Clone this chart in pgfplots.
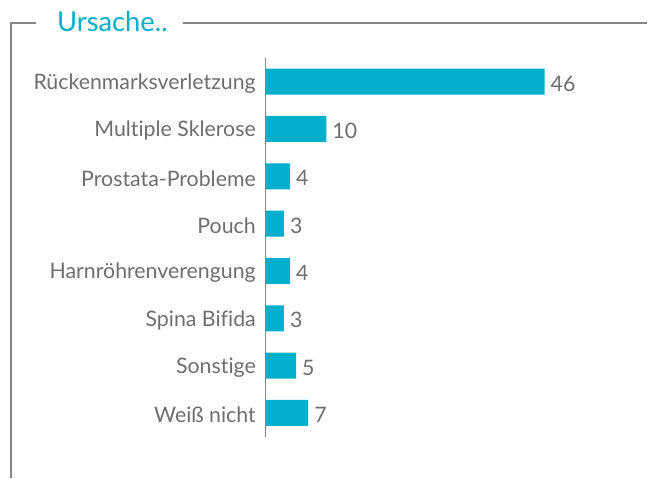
\documentclass[border=0pt]{standalone}
\usepackage{pgfplots}
\pgfplotsset{compat=1.18}
\usepackage{fontspec}
\setmainfont{Lato}[Ligatures=NoCommon]
\definecolor{teal1}{HTML}{00AFCB}
\definecolor{txtgray}{HTML}{6E6E6E}
\definecolor{linegray}{HTML}{858585}
\begin{document}
\begin{tikzpicture}
\path (0,0) rectangle (486pt,358.5pt);
% frame
\draw[linegray, line width=0.8pt] (8.25pt,0) -- (8.25pt,341.25pt) -- (27pt,341.25pt);
\draw[linegray, line width=0.8pt] (137.25pt,341.25pt) -- (486pt,341.25pt);
\node[anchor=west, inner sep=0pt, text=teal1, font=\fontsize{20.5}{22}\selectfont] at (42.75pt,342.5pt) {Ursache..};
\begin{axis}[
  at={(199.5pt,30.75pt)}, anchor=south west,
  scale only axis, width=273pt, height=284.25pt,
  xbar, bar width=19.5pt,
  xmin=0, xmax=60, ymin=-0.5, ymax=7.5, y dir=reverse,
  axis x line=none,
  axis y line*=left,
  y axis line style={-, linegray, line width=0.9pt},
  ytick={0,...,7},
  yticklabels={Rückenmarksverletzung,Multiple Sklerose,Prostata-Probleme,Pouch,Harnröhrenverengung,Spina Bifida,Sonstige,Weiß nicht},
  major tick length=0pt,
  yticklabel style={font=\fontsize{16}{18}\selectfont, text=txtgray, xshift=-4pt, yshift=-1.5pt},
  tick label style={/pgf/number format/assume math mode=true},
  nodes near coords,
  every node near coord/.append style={font=\fontsize{16}{18}\selectfont, text=txtgray, /pgf/number format/assume math mode=true, xshift=1pt, yshift=-1.5pt},
  clip=false,
]
\addplot[fill=teal1, draw=none] coordinates {(46,0) (10,1) (4,2) (3,3) (4,4) (3,5) (5,6) (7,7)};
\end{axis}
\end{tikzpicture}
\end{document}
